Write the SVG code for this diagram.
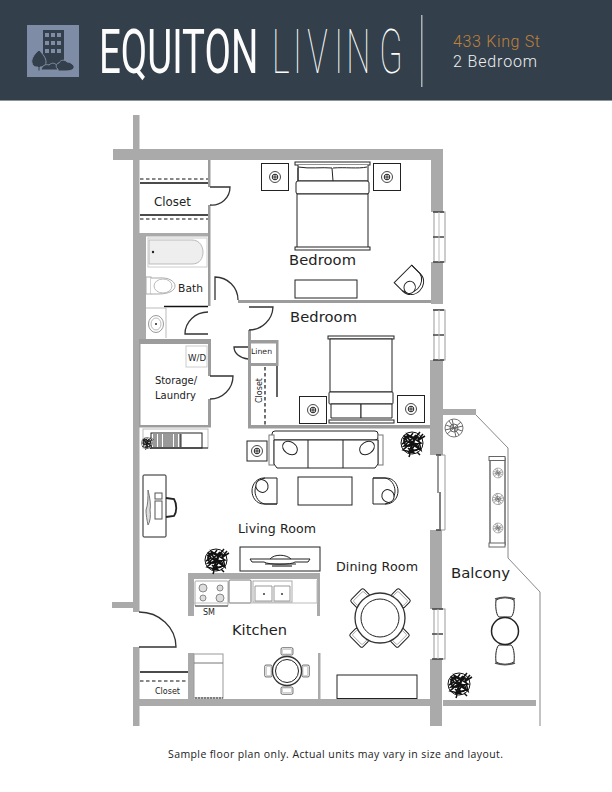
<svg xmlns="http://www.w3.org/2000/svg" xmlns:xlink="http://www.w3.org/1999/xlink" width="612" height="792" viewBox="0 0 612 792">
<style>
.w{fill:#aaaaaa}
.tw{fill:#9c9c9c}
.l{fill:none;stroke:#222;stroke-width:1}
.b{fill:none;stroke:#111;stroke-width:1.3}
.k{fill:none;stroke:#111;stroke-width:1.2;stroke-dasharray:3.5 2.5}
.g{fill:none;stroke:#999;stroke-width:1}
.f{fill:#fff;stroke:#222;stroke-width:1}
.d{fill:#fff;stroke:#333;stroke-width:1.3}
.t{font-family:"DejaVu Sans",Verdana,sans-serif;fill:#222}
.h{font-family:"Roboto","Liberation Sans",sans-serif}
</style>
<defs>
<g id="plant"><circle r="11" fill="#fff" stroke="#111" stroke-width="1"/><path d="M-9-5L7 6L-3 9L4-8L-8 3L9 0L-5-9L2 10L-9 7L6-6L9 7L-2-3L-7-7L5 3M11-9L5-2L13-7M8-11L3-5M-2 11L-3 14M5 9L8 12M-10 1L-5-2L-8-8M-4 5L-1 8L2 3M1-10L-2-6L3-3" stroke="#111" stroke-width="1.500" fill="none"/><circle cx="-3" cy="-2" r="5" fill="none" stroke="#111" stroke-width="1.800"/><circle cx="3" cy="4" r="3.500" fill="none" stroke="#111" stroke-width="1.500"/></g>
<g id="lplant"><circle r="9" fill="#fff" stroke="#777" stroke-width="1"/><path d="M-8-3L8 3M-5-7L5 7M7-6L-7 6M-2-9L2 9M-9 2L9-2M-4 0A4 4 0 1 1 4 0A4 4 0 1 1-4 0" stroke="#666" stroke-width="1" fill="none"/></g>
<g id="lamp"><circle r="5.500" fill="#fff" stroke="#333" stroke-width=".9"/><circle r="2.800" fill="#fff" stroke="#222" stroke-width="1"/><path d="M-2.500 0H2.500M0-2.500V2.500" stroke="#222" stroke-width=".9"/></g>
<g id="stand"><rect x="-13.500" y="-13.500" width="27" height="27" class="f"/><use xlink:href="#lamp" href="#lamp"/></g>
<g id="chair"><path class="f" d="M12-13V13H-1C-9 13-13 6-13 0C-13-7-8-13-1-13Z"/><path class="l" d="M12 13H0C-6 12-10 6-10 0C-10-6-6-12 0-13"/><ellipse cx="-3" cy="-5" rx="6" ry="6.500" class="f" transform="rotate(-30 -3 -5)"/></g>
<g id="dchair"><rect x="-9" y="-8" width="18" height="11" rx="2" class="f"/><rect x="-7" y="-5.500" width="14" height="7" rx="1" fill="#fff" stroke="#999" stroke-width=".8"/></g>
<g id="bchair"><path class="f" d="M-9-7C-10 2-8 9-6 10H6C8 9 10 2 9-7C3-10-3-10-9-7Z"/><path d="M-10-8C-4-10 4-10 10-8" fill="none" stroke="#555" stroke-width="1.500"/></g>
</defs>

<g id="header">
<rect width="612" height="100" fill="#333f4a"/>
<rect y="100" width="612" height="1" fill="#8a959c"/>
<g id="logo">
<rect x="27" y="25" width="52" height="52" fill="#7f8ca6"/>
<rect x="43" y="30" width="21" height="40" fill="#333f4a"/>
<g fill="#7f8ca6"><rect x="45" y="33" width="4" height="4"/><rect x="51" y="33" width="4" height="4"/><rect x="57" y="33" width="4" height="4"/><rect x="45" y="41" width="4" height="4"/><rect x="51" y="41" width="4" height="4"/><rect x="57" y="41" width="4" height="4"/><rect x="45" y="49" width="4" height="4"/><rect x="51" y="49" width="4" height="4"/><rect x="57" y="49" width="4" height="4"/></g>
<path d="M39 50C33 55 31 60 32 63C33 67 36 67 38 67V71H40V67C43 67 46 66 46 62C46 58 43 54 39 50Z" fill="#333f4a" stroke="#7f8ca6"/>
<path d="M41 70C42 65 46 64 49 65C52 62 56 63 57 66L58 70Z" fill="#333f4a" stroke="#7f8ca6"/>
<path d="M58 71V69C55 68 56 63 59 63C60 60 65 59 67 62C70 62 75 65 74 68C73 70 70 71 66 71Z" fill="#333f4a" stroke="#7f8ca6"/>
</g>
<text class="h" transform="translate(99 73) scale(.62 1)" font-size="62" font-weight="400" fill="#fff" opacity=".99">EQUITON</text>
<text class="h" transform="translate(272 73) scale(.55 1)" x="0 38 64 113 135 195" y="0" font-size="62" font-weight="100" fill="#fff" opacity=".99">LIVING</text>
<rect x="421" y="15" width="1.500" height="72" fill="#a9b1b6"/>
<text class="h" x="453" y="47" font-size="16" font-weight="300" fill="#c1823c" textLength="87">433 King St</text>
<text class="h" x="453" y="67" font-size="16" font-weight="300" fill="#eef0f0" textLength="84">2 Bedroom</text>
</g>

<g id="walls">
<rect class="w" x="113" y="149" width="330" height="11"/>
<rect class="w" x="133" y="115" width="6.500" height="497"/>
<rect class="w" x="139" y="235" width="7" height="104"/>
<rect class="w" x="112" y="602" width="21" height="6"/>
<rect class="w" x="133" y="647" width="6.500" height="79"/>
<rect class="w" x="139" y="699" width="291" height="7"/>
<rect class="w" x="431" y="149" width="12" height="63"/>
<rect class="w" x="431" y="262" width="12" height="42"/>
<rect class="w" x="430" y="360" width="13" height="95"/>
<rect class="w" x="430" y="530" width="12" height="79"/>
<rect class="w" x="430" y="659" width="12" height="67"/>
<rect class="w" x="443" y="700" width="93" height="6"/>
<rect class="w" x="443" y="409" width="33" height="6"/>
<rect class="w" x="188" y="573" width="132" height="6"/>
<rect class="w" x="188" y="573" width="6" height="43"/>
<rect class="w" x="317" y="573" width="3" height="43"/>
<rect class="w" x="188" y="653" width="6" height="46"/>
<rect class="w" x="318" y="653" width="2.500" height="46"/>
<rect class="tw" x="238" y="300" width="193" height="3"/>
<rect class="tw" x="248" y="425" width="182" height="3.500"/>
<rect class="tw" x="248" y="330" width="3" height="98"/>
<rect class="tw" x="248" y="340" width="30" height="3.500"/>
<rect class="tw" x="276" y="340" width="2.500" height="26"/>
<rect class="tw" x="251" y="363" width="27" height="3"/>
<rect class="tw" x="208" y="160" width="2.500" height="27"/>
<rect class="tw" x="208" y="205" width="2.500" height="101"/>
<rect class="w" x="139" y="233" width="69" height="3.500"/>
<rect class="tw" x="139" y="339" width="72" height="5"/>
<rect class="tw" x="208" y="339" width="3" height="37"/>
<rect class="tw" x="208" y="399" width="3" height="28"/>
<rect class="tw" x="139" y="425" width="72" height="2.500"/>
<rect class="tw" x="139" y="344" width="1.500" height="82"/>
</g>

<g id="windows">
<g class="g"><rect x="434" y="212" width="11" height="50"/><rect x="434" y="310" width="11" height="50"/><rect x="434" y="609" width="11" height="50"/></g>
<path d="M433 212H444M433 237H444M433 262H444M433 310H444M433 335H444M433 360H444M432 609H443M432 634H443M432 659H443" stroke="#444" stroke-width="1.500"/>
<path d="M439 212V262M439 310V360M438 609V659" stroke="#bbb" stroke-width="1"/>
<path d="M445 455V530H438M438 455H445" fill="none" stroke="#999"/>
<path d="M438 456V493" stroke="#777" stroke-width="1.500"/>
<path d="M440 492V529" stroke="#555" stroke-width="1.500"/>
<path d="M436 455H441M436 530H441" stroke="#444" stroke-width="1.500"/>
</g>

<g id="balcony-edge" fill="none" stroke="#888" stroke-width="1">
<path d="M476 415L508 448V558L540 592V726"/>
</g>

<g id="doors">
<path class="d" d="M210 187H230A18 18 0 0 1 210 205"/>
<path class="d" d="M215 300V277A23 23 0 0 1 238 300"/>
<path class="d" d="M249 307H273A24 24 0 0 1 249 330"/>
<path class="d" d="M208 334H185A23 22 0 0 1 208 312"/>
<path class="d" d="M210 376H233A23 23 0 0 1 210 399"/>
<path class="d" d="M248 347H234A16 12 0 0 0 248 359"/>
<path class="d" d="M139 612A37 35 0 0 1 176 647H139"/>
</g>

<g id="closets">
<path class="k" d="M140 179H208M140 219H208M140 681H188M265 367V425"/>
<path class="b" d="M140 183H208M140 215H208M140 672H188M277 366V397"/>
</g>

<g id="bath">
<path d="M149 240H192C200 240 203 247 203 252C203 258 200 264 192 264H149Z" fill="#eee" stroke="#bbb"/>
<rect x="148" y="238" width="59" height="29" fill="none" stroke="#ccc"/>
<circle cx="153" cy="252" r="1.200" fill="#222"/>
<rect x="146" y="277" width="5" height="17" fill="#fff" stroke="#aaa"/>
<path d="M151 278H158C170 277 175 282 175 286C175 290 170 294 158 294H151" fill="#fff" stroke="#aaa"/>
<ellipse cx="163" cy="286" rx="9" ry="7" fill="none" stroke="#bbb"/>
<path class="b" d="M164 306.500H208"/>
<path d="M166 308V338M146 308H166" stroke="#bbb" fill="none"/>
<ellipse cx="156" cy="324" rx="7.500" ry="8.500" fill="#fff" stroke="#999"/>
<ellipse cx="156" cy="324" rx="5" ry="6" fill="none" stroke="#bbb"/>
<circle cx="156" cy="324" r="1" fill="#222"/>
<rect x="186" y="346" width="21" height="21" fill="none" stroke="#ccc"/>
</g>

<g id="bedroom-1-furniture">
<rect x="295" y="162" width="75" height="3" class="f"/>
<path class="f" d="M298 165V181H368V165"/>
<path class="l" d="M298 167C310 169 322 167 332 168L333 181M333 168C345 167 358 169 367 167M298 168V181"/>
<rect x="296" y="181" width="73" height="13" rx="2" class="f"/>
<rect x="297" y="194" width="71" height="54" class="f"/>
<rect x="295" y="247" width="75" height="3" class="f"/>
<use xlink:href="#stand" href="#stand" x="275" y="177"/>
<use xlink:href="#stand" href="#stand" x="387" y="177"/>
<rect x="295" y="280" width="62" height="18" class="f"/>
<use xlink:href="#chair" href="#chair" transform="translate(411 282) rotate(-135) scale(.95)"/>
</g>

<g id="bedroom-2-furniture">
<rect x="328" y="336" width="66" height="3" class="f"/>
<rect x="330" y="339" width="62" height="53" class="f"/>
<rect x="329" y="392" width="64" height="12" rx="1" class="f"/>
<path class="f" d="M331 404H361V418H331Z"/>
<path class="f" d="M361 404H392V418H361Z"/>
<rect x="329" y="420" width="65" height="3" class="f"/>
<use xlink:href="#stand" href="#stand" x="313" y="410"/>
<use xlink:href="#stand" href="#stand" x="411" y="409"/>
</g>

<g id="living-furniture">
<rect x="143" y="429" width="65" height="19" fill="#fff" stroke="#bbb"/>
<path d="M151 448H208" stroke="#222"/>
<rect x="151" y="433" width="51" height="15" fill="none" stroke="#222"/>
<path d="M154 434V447M156 434V447M159 434V447M161 434V447M164 434V447M166 434V447M168 434V447M170 434V447M172 434V447M175 434V447M177 434V447M180 434V447M181 434V447" stroke="#555" stroke-width="1.200"/>
<use xlink:href="#plant" href="#plant" transform="translate(147 443) scale(.5)"/>
<rect x="143" y="475" width="23" height="62" rx="1" class="f"/>
<path d="M146 510C148 505 148 498 148 490C150 498 151 505 150 510C151 516 150 522 148 525C147 520 146 515 146 510Z" fill="#ddd" stroke="#777"/>
<rect x="155" y="493" width="7" height="6" fill="#fff" stroke="#555"/>
<rect x="155" y="501" width="7" height="18" fill="#fff" stroke="#555"/>
<path d="M166 498L174 499C177 504 177 512 174 516L166 517" fill="none" stroke="#222" stroke-width="1.800"/>
<rect x="272" y="431" width="106" height="9" rx="3" class="f"/>
<rect x="269" y="435" width="5" height="30" fill="#fff" stroke="#777"/>
<rect x="378" y="435" width="5" height="30" fill="#fff" stroke="#777"/>
<path class="f" d="M274 440H378V464L375 468H277L274 464Z"/>
<path class="l" d="M308 440V468M343 440V468"/>
<ellipse cx="290" cy="448" rx="8" ry="6" class="f" transform="rotate(35 290 448)"/>
<ellipse cx="367" cy="448" rx="8" ry="6" class="f" transform="rotate(-35 367 448)"/>
<rect x="247" y="441" width="20" height="20" class="f"/>
<use xlink:href="#lamp" href="#lamp" x="257" y="451"/>
<use xlink:href="#chair" href="#chair" x="265" y="491"/>
<use xlink:href="#chair" href="#chair" transform="translate(385 491) rotate(180)"/>
<rect x="298" y="477" width="54" height="28" class="f"/>
<rect x="240" y="547" width="80" height="24" class="f"/>
<path class="l" d="M250 559H310L308 562H295C292 565 268 565 264 562H252ZM270 559C274 554 286 554 291 559M265 564H296"/>
<path d="M272 566H292" stroke="#555" stroke-width="1.500"/>
</g>

<g id="plants">
<use xlink:href="#plant" href="#plant" x="412" y="443"/>
<use xlink:href="#plant" href="#plant" x="216" y="560"/>
<use xlink:href="#plant" href="#plant" x="459" y="684"/>
<use xlink:href="#lplant" href="#lplant" x="454" y="428"/>
</g>

<g id="kitchen-furniture">
<rect x="195" y="581" width="33" height="25" rx="1" fill="#fff" stroke="#aaa"/>
<g fill="#ddd" stroke="#888"><circle cx="203" cy="588" r="4"/><circle cx="220" cy="588" r="3"/><circle cx="203" cy="598" r="3"/><circle cx="220" cy="598" r="4"/></g>
<path d="M195 606H228" stroke="#444"/>
<rect x="229" y="580" width="22" height="23" rx="1" fill="#fff" stroke="#777"/>
<path d="M194 603H317M317 580V603" stroke="#bbb" fill="none"/>
<rect x="253" y="581" width="39" height="21" fill="#fff" stroke="#aaa"/>
<path d="M255 586H272V601H255ZM274 586H290V601H274Z" fill="#fff" stroke="#999"/>
<circle cx="264" cy="594" r=".9" fill="#222"/><circle cx="282" cy="594" r=".9" fill="#222"/>
<rect x="194" y="654" width="29" height="44" fill="#fff" stroke="#999"/>
<path d="M194 663H223" stroke="#777"/>
<path d="M195 698H223" stroke="#333" stroke-dasharray="2 1"/>
<use xlink:href="#dchair" href="#dchair" transform="translate(287 653) scale(.66)"/>
<use xlink:href="#dchair" href="#dchair" transform="translate(287 689) rotate(180) scale(.66)"/>
<use xlink:href="#dchair" href="#dchair" transform="translate(270 671) rotate(-90) scale(.66)"/>
<use xlink:href="#dchair" href="#dchair" transform="translate(304 671) rotate(90) scale(.66)"/>
<circle cx="287" cy="671" r="14.500" class="d"/>
<circle cx="287" cy="671" r="11.500" class="l"/>
</g>

<g id="dining-furniture">
<use xlink:href="#dchair" href="#dchair" transform="translate(362 600) rotate(-45)"/>
<use xlink:href="#dchair" href="#dchair" transform="translate(399 600) rotate(45)"/>
<use xlink:href="#dchair" href="#dchair" transform="translate(361 636) rotate(-135)"/>
<use xlink:href="#dchair" href="#dchair" transform="translate(398 636) rotate(135)"/>
<circle cx="380" cy="618" r="25" class="d"/>
<circle cx="380" cy="618" r="19" class="l"/>
<rect x="337" y="675" width="80" height="23.500" class="f"/>
</g>

<g id="balcony-furniture">
<rect x="490" y="458" width="15" height="87" fill="#fff" stroke="#222"/>
<rect x="489" y="456.500" width="16" height="4" fill="#fff" stroke="#666"/>
<rect x="489" y="543" width="16" height="4" fill="#fff" stroke="#666"/>
<use xlink:href="#lplant" href="#lplant" transform="translate(498 473) scale(.55)"/>
<use xlink:href="#lplant" href="#lplant" transform="translate(498 499) scale(.62)"/>
<use xlink:href="#lplant" href="#lplant" transform="translate(498 528) scale(.55)"/>
<use xlink:href="#bchair" href="#bchair" x="505" y="607"/>
<use xlink:href="#bchair" href="#bchair" transform="translate(505 655) rotate(180)"/>
<circle cx="505" cy="631" r="13.500" fill="#fff" stroke="#222" stroke-width="1.500"/>
</g>

<g id="labels" class="t">
<text x="289" y="265" font-size="14.700" textLength="67">Bedroom</text>
<text x="290" y="322" font-size="14.700" textLength="67">Bedroom</text>
<text x="154" y="206" font-size="11.800" textLength="37">Closet</text>
<text x="178" y="292" font-size="10.700" textLength="25">Bath</text>
<text x="188" y="361" font-size="8.600" textLength="18">W/D</text>
<text x="155" y="384" font-size="10" textLength="42">Storage/</text>
<text x="155" y="399" font-size="10" textLength="41">Laundry</text>
<text x="251" y="354" font-size="7.700" textLength="21">Linen</text>
<text transform="translate(262 403) rotate(-90)" font-size="8" textLength="25">Closet</text>
<text x="238" y="533" font-size="12.600" textLength="78">Living Room</text>
<text x="336" y="571" font-size="12.700" textLength="82">Dining Room</text>
<text x="451" y="578" font-size="14.900" textLength="59">Balcony</text>
<text x="232" y="635" font-size="14.600" textLength="55">Kitchen</text>
<text x="203" y="615" font-size="8" textLength="12">SM</text>
<text x="155" y="694" font-size="8" textLength="25">Closet</text>
<text x="168" y="758" font-size="10.500" style="font-family:'Open Sans','Noto Sans',sans-serif" textLength="335">Sample floor plan only. Actual units may vary in size and layout.</text>
</g>
</svg>
